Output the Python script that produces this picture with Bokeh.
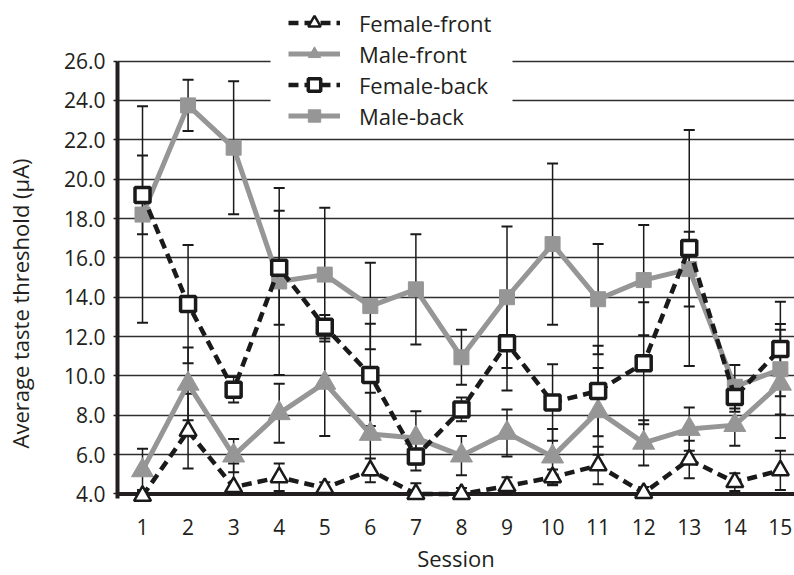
from bokeh.plotting import figure
from bokeh.models import (ColumnDataSource, Whisker, TeeHead, FixedTicker,
                          NumeralTickFormatter, Legend, LegendItem, Span,
                          BoxAnnotation, Range1d, Title)
from bokeh.embed import file_html
from bokeh.resources import INLINE

# ---------------- data ----------------
sessions = list(range(1, 16))
y_ticks = [4, 6, 8, 10, 12, 14, 16, 18, 20, 22, 24, 26]

female_front = [3.9, 7.2, 4.35, 4.85, 4.3, 5.2, 4.0, 4.0, 4.4, 4.85, 5.45, 4.05, 5.75, 4.6, 5.2]
female_front_err = [0.3, 1.9, 1.2, 0.7, 0.3, 0.6, 0.55, 0.3, 0.45, 0.4, 0.95, 0.3, 0.95, 0.45, 1.0]

male_front = [5.2, 9.6, 5.95, 8.1, 9.65, 7.05, 6.85, 5.95, 7.1, 5.9, 8.2, 6.6, 7.3, 7.5, 9.6]
male_front_err = [1.1, 1.85, 0.85, 1.5, 2.7, 2.1, 1.35, 1.0, 1.2, 1.4, 2.2, 1.15, 1.1, 1.05, 2.75]

female_back = [19.2, 13.65, 9.3, 15.5, 12.5, 10.05, 5.9, 8.3, 11.66, 8.65, 9.24, 10.65, 16.5, 8.93, 11.37]
female_back_err = [2.0, 3.0, 0.65, 2.9, 0.6, 2.6, 0.7, 0.6, 2.4, 1.95, 2.3, 3.1, 6.0, 0.75, 2.4]

male_back = [18.2, 23.75, 21.6, 14.8, 15.15, 13.55, 14.4, 10.95, 14.0, 16.7, 13.9, 14.87, 15.43, 9.45, 10.34]
male_back_err = [5.5, 1.3, 3.38, 4.75, 3.4, 2.2, 2.8, 1.4, 3.6, 4.1, 2.8, 2.8, 1.9, 1.1, 2.3]

# ---------------- styling ----------------
FONT = "Open Sans"
TXT = "#231f20"
GRAY = "#969696"
BLACK = "#1a1a1a"
AXIS_MIN = 4

p = figure(width=794, height=575, output_backend="svg", toolbar_location=None,
           x_range=Range1d(0.451, 15.31), y_range=Range1d(3.517, 29.08),
           min_border_left=117, min_border_right=0, min_border_top=0,
           min_border_bottom=0, outline_line_color=None)

p.xgrid.grid_line_color = None
p.ygrid.grid_line_color = "#2e2e2e"
p.ygrid.grid_line_width = 1.5
p.ygrid.ticker = FixedTicker(ticks=y_ticks)

# y axis
p.yaxis.ticker = FixedTicker(ticks=y_ticks)
p.yaxis.formatter = NumeralTickFormatter(format="0.0")
p.yaxis.bounds = (3.75, 26)
p.yaxis.axis_line_width = 4
p.yaxis.axis_line_color = TXT
p.yaxis.major_tick_out = 4
p.yaxis.major_tick_in = 0
p.yaxis.major_tick_line_width = 1.5
p.yaxis.major_tick_line_color = TXT
p.yaxis.minor_tick_line_color = None
p.yaxis.major_label_standoff = 8

# x axis
p.xaxis.ticker = FixedTicker(ticks=sessions)
p.xaxis.bounds = (1, 15)
p.xaxis.axis_line_color = None
p.xaxis.major_tick_out = 0
p.xaxis.major_tick_in = 0
p.xaxis.major_tick_line_color = None
p.xaxis.minor_tick_line_color = None
p.xaxis.major_label_standoff = 15
p.xaxis.axis_label = "Session"
p.xaxis.axis_label_standoff = 5

for ax in (p.xaxis, p.yaxis):
    ax.major_label_text_font = FONT
    ax.major_label_text_font_size = "21px"
    ax.major_label_text_color = TXT
    ax.axis_label_text_font = FONT
    ax.axis_label_text_font_size = "22px"
    ax.axis_label_text_font_style = "normal"
    ax.axis_label_text_color = TXT

# blank y-axis label used only as a spacer between tick labels and the title
p.yaxis.axis_label = " "
p.yaxis.axis_label_text_font_size = "1px"
p.yaxis.axis_label_standoff = 20

# y axis title as a side title, shifted down like the original
p.add_layout(Title(text="Average taste threshold (μA)", align="left",
                   vertical_align="top", offset=55, standoff=0,
                   text_font=FONT, text_font_size="22px",
                   text_font_style="normal", text_color=TXT), "left")

# white area behind the legend (gridlines interrupted)
p.add_layout(BoxAnnotation(left=3.81, right=9.12, bottom=22.3,
                           fill_color="white", fill_alpha=1.0,
                           line_color=None, level="underlay"))

# x axis line at 4.0
p.add_layout(Span(location=AXIS_MIN, dimension="width", line_color=TXT,
                  line_width=4, level="underlay"))


def series(vals, errs, color, dash, marker, fill, size, lw_line, lw_marker):
    src = ColumnDataSource(dict(
        x=sessions, y=vals,
        upper=[v + e for v, e in zip(vals, errs)],
        lower=[max(v - e, AXIS_MIN) for v, e in zip(vals, errs)]))
    w = Whisker(source=src, base="x", upper="upper", lower="lower",
                line_color=BLACK, line_width=1.5, level="underlay",
                upper_head=TeeHead(size=11, line_width=2, line_color=BLACK),
                lower_head=TeeHead(size=11, line_width=2, line_color=BLACK))
    p.add_layout(w)
    ln = p.line("x", "y", source=src, line_color=color, line_width=lw_line,
                line_dash=dash)
    sc = p.scatter("x", "y", source=src, marker=marker, size=size,
                   fill_color=fill, line_color=color, line_width=lw_marker)
    return [ln, sc]


mf_r = series(male_front, male_front_err, GRAY, "solid", "triangle", GRAY, 22, 5, 1)
mb_r = series(male_back, male_back_err, GRAY, "solid", "square", GRAY, 15, 5, 1)
ff_r = series(female_front, female_front_err, BLACK, "10 6", "triangle", "white", 17, 4.5, 2.5)
fb_r = series(female_back, female_back_err, BLACK, "10 6", "square", "white", 15, 4.5, 3.5)

legend = Legend(items=[LegendItem(label="Female-front", renderers=ff_r),
                       LegendItem(label="Male-front", renderers=mf_r),
                       LegendItem(label="Female-back", renderers=fb_r),
                       LegendItem(label="Male-back", renderers=mb_r)],
                location=(171, 372), orientation="vertical",
                glyph_width=52, glyph_height=31, label_height=31,
                spacing=0, padding=0, margin=0, label_standoff=19,
                label_text_font=FONT, label_text_font_size="22px",
                label_text_color=TXT, border_line_color=None,
                background_fill_alpha=0)
p.add_layout(legend)

open("out.html", "w").write(file_html(p, INLINE))
